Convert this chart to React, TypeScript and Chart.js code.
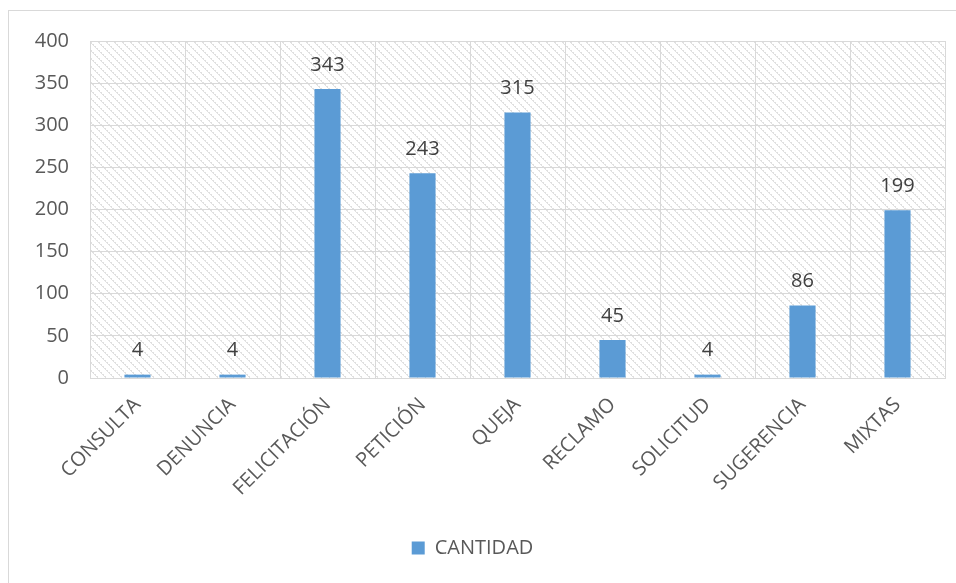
import React, { useEffect, useRef } from "react";
import { Chart, registerables } from "chart.js";

Chart.register(...registerables);

const categories = ["CONSULTA", "DENUNCIA", "FELICITACIÓN", "PETICIÓN", "QUEJA", "RECLAMO", "SOLICITUD", "SUGERENCIA", "MIXTAS"];
const cantidad = [4, 4, 343, 243, 315, 45, 4, 86, 199];
const seriesName = "CANTIDAD";
const yMin = 0;
const yMax = 400;
const yStep = 50;

const FONT = "'Open Sans', 'Noto Sans', sans-serif";
const GRID = "#d9d9d9";
const TEXT = "#595959";
const BAR = "#5b9bd5";

function makePattern(ctx: CanvasRenderingContext2D) {
  const n = 8;
  const c = document.createElement("canvas");
  c.width = n;
  c.height = n;
  const p = c.getContext("2d")!;
  p.fillStyle = "#ffffff";
  p.fillRect(0, 0, n, n);
  p.fillStyle = "#e0e0e0";
  for (let i = 0; i < n; i++) {
    p.fillRect(i, i, 1, 1);
    if (i % 2 === 0) p.fillRect((i + 1) % n, i, 1, 1);
  }
  return ctx.createPattern(c, "repeat")!;
}

const bgPlugin = {
  id: "hatchBg",
  beforeDraw(chart: any) {
    const { ctx, chartArea } = chart;
    ctx.save();
    ctx.fillStyle = "#ffffff";
    ctx.fillRect(0, 0, chart.width, chart.height);
    ctx.fillStyle = makePattern(ctx);
    ctx.fillRect(chartArea.left, chartArea.top, chartArea.right - chartArea.left, chartArea.bottom - chartArea.top);
    ctx.strokeStyle = GRID;
    ctx.lineWidth = 1;
    ctx.strokeRect(8.5, 10.5, 2000, 2000);
    ctx.restore();
  },
};

const labelPlugin = {
  id: "valueLabels",
  afterDatasetsDraw(chart: any) {
    const { ctx } = chart;
    const meta = chart.getDatasetMeta(0);
    ctx.save();
    ctx.font = `20px ${FONT}`;
    ctx.fillStyle = "#404040";
    ctx.textAlign = "center";
    ctx.textBaseline = "bottom";
    meta.data.forEach((bar: any, i: number) => {
      ctx.fillText(String(chart.data.datasets[0].data[i]), bar.x, bar.y - 14);
    });
    ctx.restore();
  },
};

export default function App() {
  const ref = useRef<HTMLCanvasElement>(null);
  useEffect(() => {
    document.body.style.margin = "0";
    const chart = new Chart(ref.current!, {
      type: "bar",
      data: {
        labels: categories,
        datasets: [
          {
            label: seriesName,
            data: cantidad,
            backgroundColor: BAR,
            barPercentage: 0.55,
            categoryPercentage: 0.5,
          },
        ],
      },
      options: {
        responsive: false,
        animation: false,
        layout: { padding: { top: 41, right: 11, left: 0, bottom: 15 } },
        plugins: {
          tooltip: { enabled: false },
          legend: {
            position: "bottom",
            labels: {
              color: TEXT,
              font: { family: FONT, size: 20 },
              boxWidth: 13,
              boxHeight: 13,
              padding: 8,
            },
          },
        },
        scales: {
          x: {
            grid: { color: GRID, offset: true, drawTicks: false },
            border: { color: GRID },
            ticks: {
              color: TEXT,
              font: { family: FONT, size: 20 },
              maxRotation: 45,
              minRotation: 45,
              padding: 15,
              autoSkip: false,
            },
            afterFit(scale: any) {
              scale.height = 152;
            },
          },
          y: {
            min: yMin,
            max: yMax,
            grid: { color: GRID, drawTicks: false },
            border: { color: GRID },
            ticks: {
              stepSize: yStep,
              color: TEXT,
              font: { family: FONT, size: 20 },
              padding: 21,
            },
            afterFit(scale: any) {
              scale.width = 90;
            },
          },
        },
      },
      plugins: [bgPlugin, labelPlugin],
    } as any);
    return () => chart.destroy();
  }, []);
  return <canvas ref={ref} width={956} height={583} style={{ display: "block" }} />;
}
